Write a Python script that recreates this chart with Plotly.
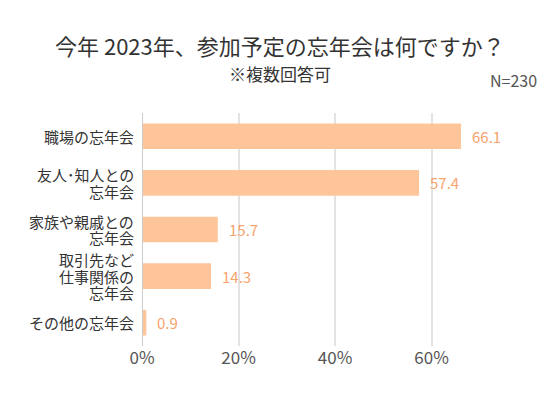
import plotly.graph_objects as go

categories = ["職場の忘年会", "友人･知人との<br>忘年会", "家族や親戚との<br>忘年会",
              "取引先など<br>仕事関係の<br>忘年会", "その他の忘年会"]
values = [66.1, 57.4, 15.7, 14.3, 0.9]
tick_vals = [0, 20, 40, 60]
tick_text = ["0%", "20%", "40%", "60%"]

title_text = "今年 2023年、参加予定の忘年会は何ですか？"
subtitle_text = "※複数回答可"
n_text = "N=230"

FONT = "Noto Sans CJK JP"
BAR = "#FFC59A"
LABEL = "#F7A36B"

W, H = 560, 398
ML, MR, MT, MB = 142, 56, 113, 52
center_x = (W / 2 - ML) / (W - ML - MR)
LINE_H = 16.8

fig = go.Figure(go.Bar(
    x=values, y=categories, orientation="h",
    marker=dict(color=BAR, line=dict(width=0)),
    cliponaxis=False, width=0.55, hoverinfo="skip",
))

value_annotations = [
    dict(x=v, y=c, xref="x", yref="y", text=f"{v}", xanchor="left",
         yanchor="middle", xshift=9, showarrow=False,
         font=dict(size=15, color=LABEL, family=FONT))
    for c, v in zip(categories, values)
]

# category labels: one text per line so the tight line spacing of the reference is kept
category_annotations = []
for c in categories:
    lines = c.split("<br>")
    n = len(lines)
    for i, line in enumerate(lines):
        category_annotations.append(dict(
            x=0, y=c, xref="paper", yref="y", text=line, xanchor="right",
            yanchor="middle", xshift=-7, yshift=((n - 1) / 2 - i) * LINE_H,
            showarrow=False, borderpad=0,
            font=dict(size=15, color="#333333", family=FONT)))

fig.update_layout(
    width=W, height=H,
    margin=dict(l=ML, r=MR, t=MT, b=MB),
    paper_bgcolor="white", plot_bgcolor="white",
    font=dict(family=FONT, color="#333333"),
    showlegend=False,
    xaxis=dict(range=[0, 75], tickvals=tick_vals, ticktext=tick_text,
               showgrid=True, gridcolor="#e3e3e3", gridwidth=1.5,
               zeroline=False, showline=False,
               tickfont=dict(size=17, color="#555555", family=FONT),
               ticks="", ticklabelstandoff=0),
    yaxis=dict(autorange="reversed", showgrid=False, zeroline=False,
               showline=False, ticks="", showticklabels=False),
    shapes=[dict(type="line", xref="x", yref="paper", x0=0, x1=0, y0=0, y1=1,
                 line=dict(color="#cccccc", width=2), layer="above")],
    annotations=value_annotations + category_annotations + [
        dict(text=title_text, xref="paper", yref="paper", x=center_x, y=1,
             xanchor="center", yanchor="middle", yshift=68, showarrow=False,
             font=dict(size=22, color="#333333", family=FONT)),
        dict(text=subtitle_text, xref="paper", yref="paper", x=center_x, y=1,
             xanchor="center", yanchor="middle", yshift=40, showarrow=False,
             font=dict(size=17, color="#333333", family=FONT)),
        dict(text=n_text, xref="paper", yref="paper", x=1, y=1,
             xanchor="right", yanchor="middle", xshift=35, yshift=33, showarrow=False,
             font=dict(size=16, color="#555555", family=FONT)),
    ],
)

fig.write_html("out.html", config={"displayModeBar": False},
               post_script="document.body.style.margin='0';")
